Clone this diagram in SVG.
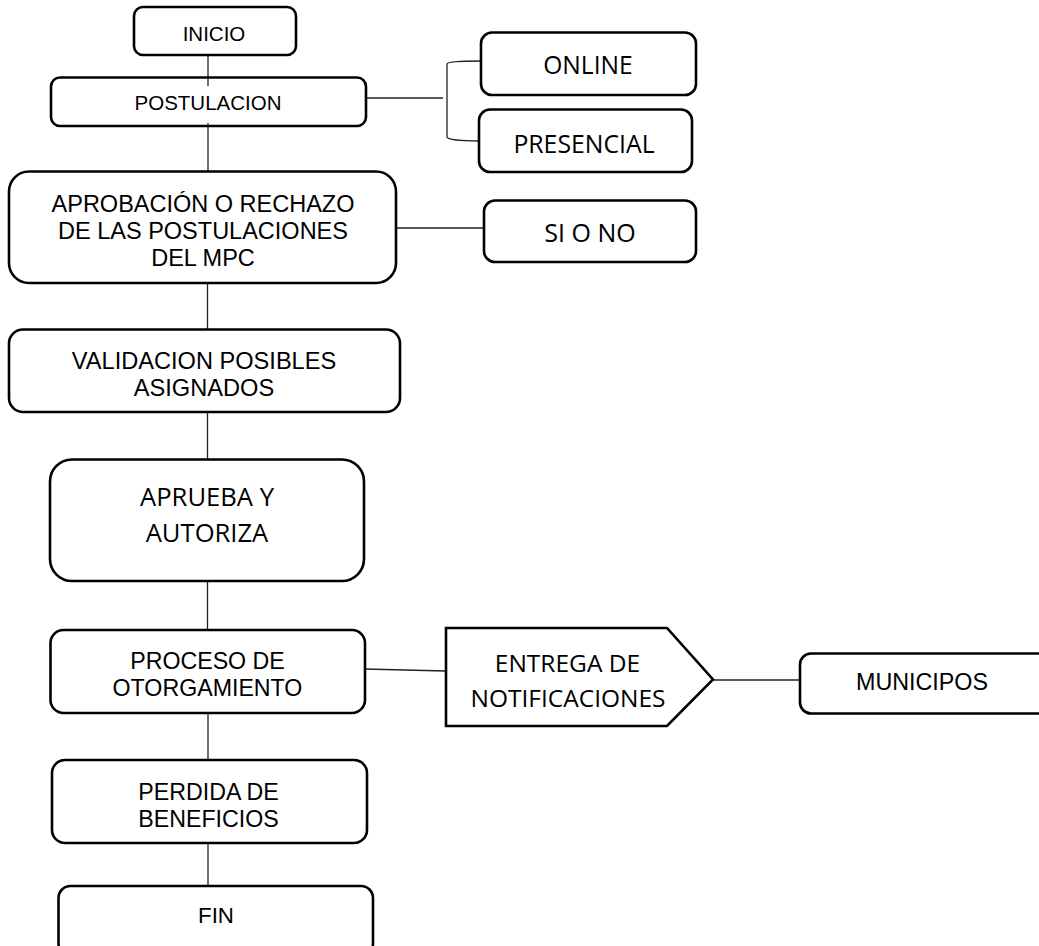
<svg xmlns="http://www.w3.org/2000/svg" width="1039" height="946" viewBox="0 0 1039 946">
<style>
.box{fill:#fff;stroke:#000;stroke-width:2.6}
.c{fill:none;stroke:#222;stroke-width:1.3}
.a{font-family:"Liberation Sans",Arial,sans-serif;fill:#000;text-anchor:middle}
.o{font-family:"Open Sans","Noto Sans",sans-serif;fill:#000;text-anchor:middle}
</style>
<rect width="1039" height="946" fill="#fff"/>
<g id="connectors">
<line class="c" x1="208" y1="55" x2="208" y2="86"/>
<line class="c" x1="208" y1="123" x2="208" y2="171"/>
<line class="c" x1="366" y1="98" x2="443" y2="98"/>
<path class="c" d="M481,61 C462,61 447,61.5 447,64 L447,137 C447,139.5 462,141 479,141"/>
<line class="c" x1="396" y1="228" x2="484" y2="228"/>
<line class="c" x1="207.5" y1="283" x2="207.5" y2="329"/>
<line class="c" x1="207.5" y1="412" x2="207.5" y2="459"/>
<line class="c" x1="207.5" y1="581" x2="207.5" y2="630"/>
<line class="c" x1="365" y1="669" x2="445" y2="671"/>
<line class="c" x1="713" y1="680" x2="800" y2="680"/>
<line class="c" x1="208" y1="713" x2="208" y2="760"/>
<line class="c" x1="208" y1="843" x2="208" y2="886"/>
</g>
<g id="inicio">
<rect class="box" x="134" y="7" width="162" height="48" rx="9"/>
<text class="a" x="214" y="40.5" font-size="20.5">INICIO</text>
</g>
<g id="postulacion">
<rect class="box" x="51" y="77.5" width="315" height="48.5" rx="9"/>
<line class="c" x1="208" y1="77.5" x2="208" y2="86"/>
<line class="c" x1="208" y1="123" x2="208" y2="126"/>
<text class="a" x="208" y="109.5" font-size="20.5">POSTULACION</text>
</g>
<g id="online">
<rect class="box" x="481" y="32.5" width="215" height="62.5" rx="11"/>
<text class="o" x="588" y="74" font-size="24.6">ONLINE</text>
</g>
<g id="presencial">
<rect class="box" x="479" y="109.5" width="213" height="62.5" rx="11"/>
<text class="o" x="584" y="153" font-size="24.8">PRESENCIAL</text>
</g>
<g id="aprobacion">
<rect class="box" x="9" y="171.5" width="387" height="111.5" rx="20"/>
<text class="a" font-size="23.5"><tspan x="203" y="211.5">APROBACIÓN O RECHAZO</tspan><tspan x="203" y="238.5">DE LAS POSTULACIONES</tspan><tspan x="203" y="265.5">DEL MPC</tspan></text>
</g>
<g id="sino">
<rect class="box" x="484" y="200.5" width="212" height="61.5" rx="11"/>
<text class="o" x="590" y="242" font-size="25">SI O NO</text>
</g>
<g id="validacion">
<rect class="box" x="9" y="329.5" width="391" height="82.5" rx="14"/>
<text class="a" font-size="23.6"><tspan x="204" y="368.5">VALIDACION POSIBLES</tspan><tspan x="204" y="395.5">ASIGNADOS</tspan></text>
</g>
<g id="aprueba">
<rect class="box" x="50" y="459.5" width="314" height="121.5" rx="22"/>
<text class="o" font-size="25.6"><tspan x="207" y="506">APRUEBA Y</tspan><tspan x="207" y="542">AUTORIZA</tspan></text>
</g>
<g id="proceso">
<rect class="box" x="50.5" y="630" width="314.5" height="83" rx="13"/>
<text class="a" font-size="23.2"><tspan x="207.5" y="668.5">PROCESO DE</tspan><tspan x="207.5" y="695.5">OTORGAMIENTO</tspan></text>
</g>
<g id="entrega">
<path class="box" d="M446,628 L667,628 L713,679.5 L667,726 L446,726 Z"/>
<text class="o" font-size="24.5"><tspan x="567.5" y="672">ENTREGA DE</tspan><tspan x="568" y="707">NOTIFICACIONES</tspan></text>
</g>
<g id="municipos">
<rect class="box" x="800" y="653.5" width="260" height="60" rx="11"/>
<text class="a" x="922" y="690.3" font-size="23.3">MUNICIPOS</text>
</g>
<g id="perdida">
<rect class="box" x="52" y="760" width="315" height="83" rx="13"/>
<text class="a" font-size="23.2"><tspan x="208.5" y="800.3">PERDIDA DE</tspan><tspan x="208.5" y="826.5">BENEFICIOS</tspan></text>
</g>
<g id="fin">
<rect class="box" x="58.5" y="886" width="314.5" height="70" rx="12"/>
<text class="a" x="216" y="923" font-size="22.3">FIN</text>
</g>
</svg>
